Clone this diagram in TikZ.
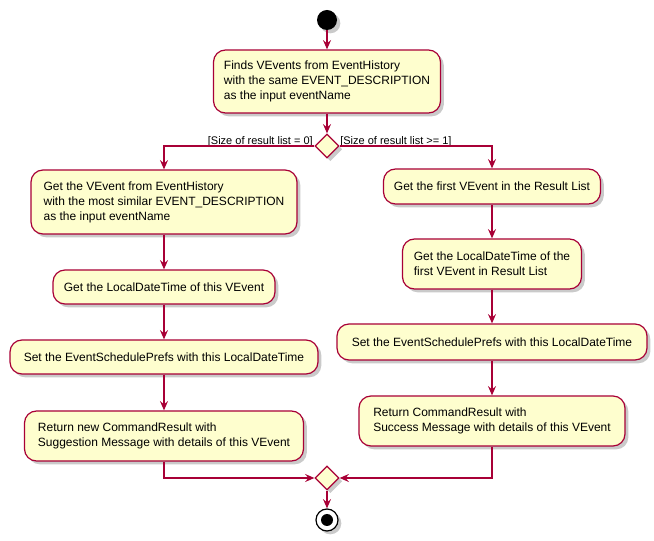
\documentclass[tikz,border=0pt]{standalone}
\usepackage{fontspec}
\setmainfont{Liberation Sans}
\usepackage{xcolor}
\usepackage{tikz}
\usetikzlibrary{shapes.geometric,arrows.meta,shadows}
\definecolor{puml}{HTML}{A80036}
\definecolor{actfill}{HTML}{FEFECE}
\tikzset{
  shade/.style={drop shadow={shadow xshift=2.5pt, shadow yshift=-2.5pt, opacity=0.35, fill=black!60}},
  act/.style={draw=puml, fill=actfill, line width=0.9pt, rounded corners=9pt, shade,
              align=left, inner sep=0pt, font=\fontsize{9}{11.25}\selectfont},
  branch/.style={draw=puml, fill=actfill, line width=0.9pt, diamond, aspect=1, inner sep=0pt,
                 minimum width=18pt, minimum height=18pt, shade},
  flow/.style={draw=puml, line width=0.9pt, -{Stealth[length=7pt,width=6pt,inset=2.5pt]}},
  guard/.style={font=\fontsize{8.25}{10}\selectfont, inner sep=0pt},
}

\begin{document}
\begin{tikzpicture}[x=0.75pt, y=-0.75pt]
  \useasboundingbox (0,0) rectangle (654,541);

  % start
  \node[circle, fill=black, minimum size=15pt, inner sep=0pt, shade] (start) at (327,20) {};

  \node[act, minimum width=170.25pt, minimum height=47.25pt] (find) at (327,81.5)
    {Finds VEvents from EventHistory\\with the same EVENT\_DESCRIPTION\\as the input eventName};
  \node[branch] (split) at (327,146) {};
  \node[guard, anchor=base east] (none) at (313,144.5) {[Size of result list = 0]};
  \node[guard, anchor=base west] (some) at (340,144.5) {[Size of result list >= 1]};

  % left branch
  \node[act, minimum width=199.5pt, minimum height=48pt] (similar) at (164,202)
    {Get the VEvent from EventHistory\\with the most similar EVENT\_DESCRIPTION\\as the input eventName};
  \node[act, minimum width=166.5pt, minimum height=25.5pt] (ltime) at (164,287)
    {Get the LocalDateTime of this VEvent};
  \node[act, minimum width=231pt, minimum height=25.5pt] (lprefs) at (164,357)
    {Set the EventSchedulePrefs with this LocalDateTime};
  \node[act, minimum width=209.25pt, minimum height=37.5pt] (suggest) at (164,436)
    {Return new CommandResult with\\Suggestion Message with details of this VEvent};

  % right branch
  \node[act, minimum width=162.75pt, minimum height=26.25pt] (first) at (492,186.5)
    {Get the first VEvent in the Result List};
  \node[act, minimum width=134.25pt, minimum height=37.5pt] (rtime) at (492,264)
    {Get the LocalDateTime of the\\first VEvent in Result List};
  \node[act, minimum width=232.5pt, minimum height=27pt] (rprefs) at (492,342)
    {Set the EventSchedulePrefs with this LocalDateTime};
  \node[act, minimum width=199.5pt, minimum height=37.5pt] (success) at (492,421)
    {Return CommandResult with\\Success Message with details of this VEvent};

  % merge and end
  \node[branch] (merge) at (327,478) {};
  \node[circle, draw=black, fill=white, line width=0.9pt, minimum size=16.5pt, inner sep=0pt, shade] (stop) at (327,520) {};
  \node[circle, fill=black, minimum size=9pt, inner sep=0pt] (stopdot) at (stop) {};

  \draw[flow] (start) -- (find);
  \draw[flow] (find) -- (split);
  \draw[flow] (split.west) -| (similar.north);
  \draw[flow] (split.east) -| (first.north);
  \draw[flow] (similar) -- (ltime);
  \draw[flow] (ltime) -- (lprefs);
  \draw[flow] (lprefs) -- (suggest);
  \draw[flow] (first) -- (rtime);
  \draw[flow] (rtime) -- (rprefs);
  \draw[flow] (rprefs) -- (success);
  \draw[flow] (suggest.south) |- (merge.west);
  \draw[flow] (success.south) |- (merge.east);
  \draw[flow] (merge) -- (stop);
\end{tikzpicture}
\end{document}
